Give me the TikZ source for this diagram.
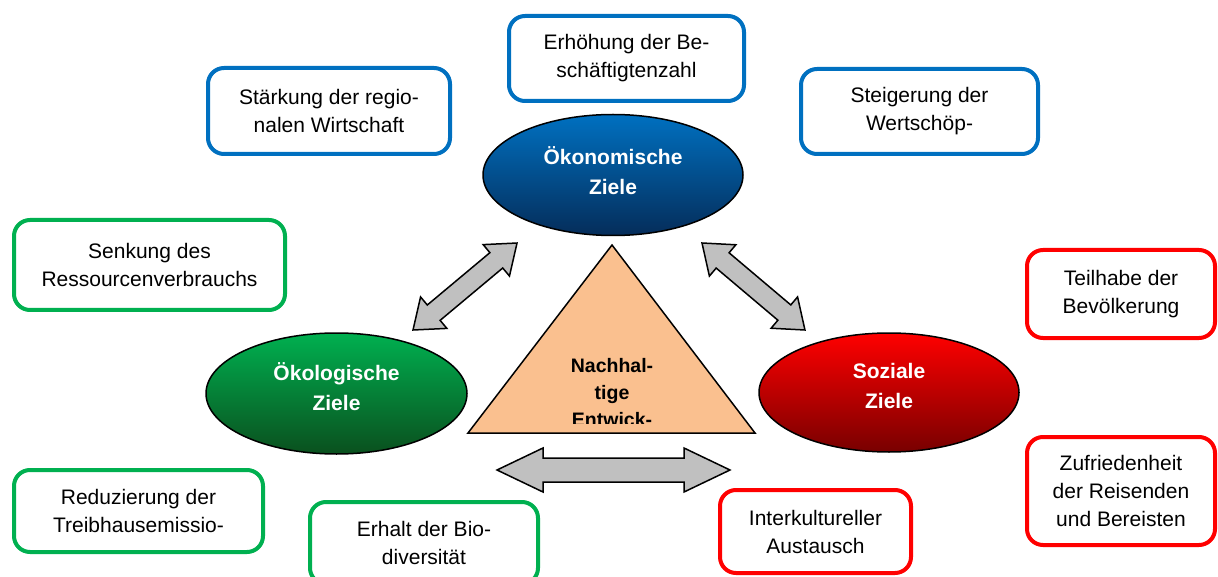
\documentclass[tikz,border=0pt]{standalone}
\usepackage{fontspec}
\setmainfont{Liberation Sans}
\usetikzlibrary{shapes.geometric}
\definecolor{oekoblue}{RGB}{0,112,192}
\definecolor{oekobluedark}{RGB}{5,45,90}
\definecolor{oekogreen}{RGB}{0,176,80}
\definecolor{oekogreendark}{RGB}{10,80,30}
\definecolor{sozred}{RGB}{255,0,0}
\definecolor{sozreddark}{RGB}{120,0,0}
\definecolor{peach}{RGB}{250,192,143}
\definecolor{arrowgray}{RGB}{192,192,192}
\begin{document}
\begin{tikzpicture}[x=1pt,y=-1pt,
  goalbox/.style={draw=#1, line width=4pt, rounded corners=16pt, fill=white,
    align=center, inner sep=0pt, font=\fontsize{21}{28}\selectfont},
  goalell/.style n args={2}{ellipse, draw=black, line width=1.5pt, inner sep=0pt,
    top color=#1, bottom color=#2, shading angle=0},
  elltext/.style={text=white, align=center, inner sep=0pt,
    font=\bfseries\fontsize{21}{30}\selectfont},
  tritext/.style={align=center, inner sep=0pt,
    font=\bfseries\fontsize{19.5}{27}\selectfont},
  arrowstyle/.style={draw=black, line width=1.5pt, fill=arrowgray, line join=miter},
  pics/blockarrow/.style n args={4}{code={
    \draw[arrowstyle] (0,0) -- (#4,#3/2) -- (#4,#2/2) -- (#1-#4,#2/2) -- (#1-#4,#3/2)
      -- (#1,0) -- (#1-#4,-#3/2) -- (#1-#4,-#2/2) -- (#4,-#2/2) -- (#4,-#3/2) -- cycle;
  }}
]
\useasboundingbox (0,0) rectangle (1218,577);
\clip (0,0) rectangle (1218,577);

% goal boxes
\node[goalbox=oekoblue, minimum width=242pt, minimum height=86pt] (b1) at (329,111)
  {Stärkung der regio-\\nalen Wirtschaft};
\node[goalbox=oekoblue, minimum width=235pt, minimum height=85pt] (b2) at (626.5,58.5)
  {Erhöhung der Be-\\schäftigtenzahl};
\node[goalbox=oekoblue, minimum width=237pt, minimum height=85pt] (b3) at (919.5,111.5)
  {Steigerung der\\Wertschöp-};
\node[goalbox=oekogreen, minimum width=271pt, minimum height=90pt] (b4) at (149.5,265)
  {Senkung des\\Ressourcenverbrauchs};
\node[goalbox=sozred, minimum width=188pt, minimum height=88pt] (b5) at (1121,294)
  {Teilhabe der\\Bevölkerung};
\node[goalbox=sozred, minimum width=188pt, minimum height=108pt] (b6) at (1121,491)
  {Zufriedenheit\\der Reisenden\\und Bereisten};
\node[goalbox=oekogreen, minimum width=249pt, minimum height=82pt] (b7) at (138.5,511)
  {Reduzierung der\\Treibhausemissio-};
\node[goalbox=oekogreen, minimum width=228pt, minimum height=82pt] (b8) at (424,543)
  {Erhalt der Bio-\\diversität};
\node[goalbox=sozred, minimum width=191pt, minimum height=83pt] (b9) at (815.5,531.5)
  {Interkultureller\\Austausch};

% goal ellipses
\node[goalell={oekoblue}{oekobluedark}, minimum width=260pt, minimum height=121pt] (e1) at (613,175) {};
\node[elltext, yshift=4.5pt] (e1t) at (e1.center) {Ökonomische\\Ziele};
\node[goalell={oekogreen}{oekogreendark}, minimum width=261pt, minimum height=121pt] (e2) at (336.5,393.5) {};
\node[elltext, yshift=7pt] (e2t) at (e2.center) {Ökologische\\Ziele};
\node[goalell={sozred}{sozreddark}, minimum width=260pt, minimum height=119pt] (e3) at (889,392.5) {};
\node[elltext, yshift=7pt] (e3t) at (e3.center) {Soziale\\Ziele};

% triangle
\coordinate (tA) at (612,245);
\coordinate (tL) at (468,433);
\coordinate (tR) at (755,433);
\draw[fill=peach, line width=1.5pt, line join=miter] (tA) -- (tR) -- (tL) -- cycle;
\begin{scope}
  \clip (440,340) rectangle (780,423);
  \node[tritext] (tt) at (612,393) {Nachhal-\\tige\\Entwick-};
\end{scope}

% block arrows
\coordinate (aL) at (413,330);
\coordinate (aR) at (702,243);
\coordinate (aH) at (497,470);
\pic[rotate=39.9] at (aL) {blockarrow={135.6}{20}{41}{27}};
\pic[rotate=-40.2] at (aR) {blockarrow={134.8}{20}{41}{27}};
\pic at (aH) {blockarrow={233}{24}{44}{46}};
\end{tikzpicture}
\end{document}
